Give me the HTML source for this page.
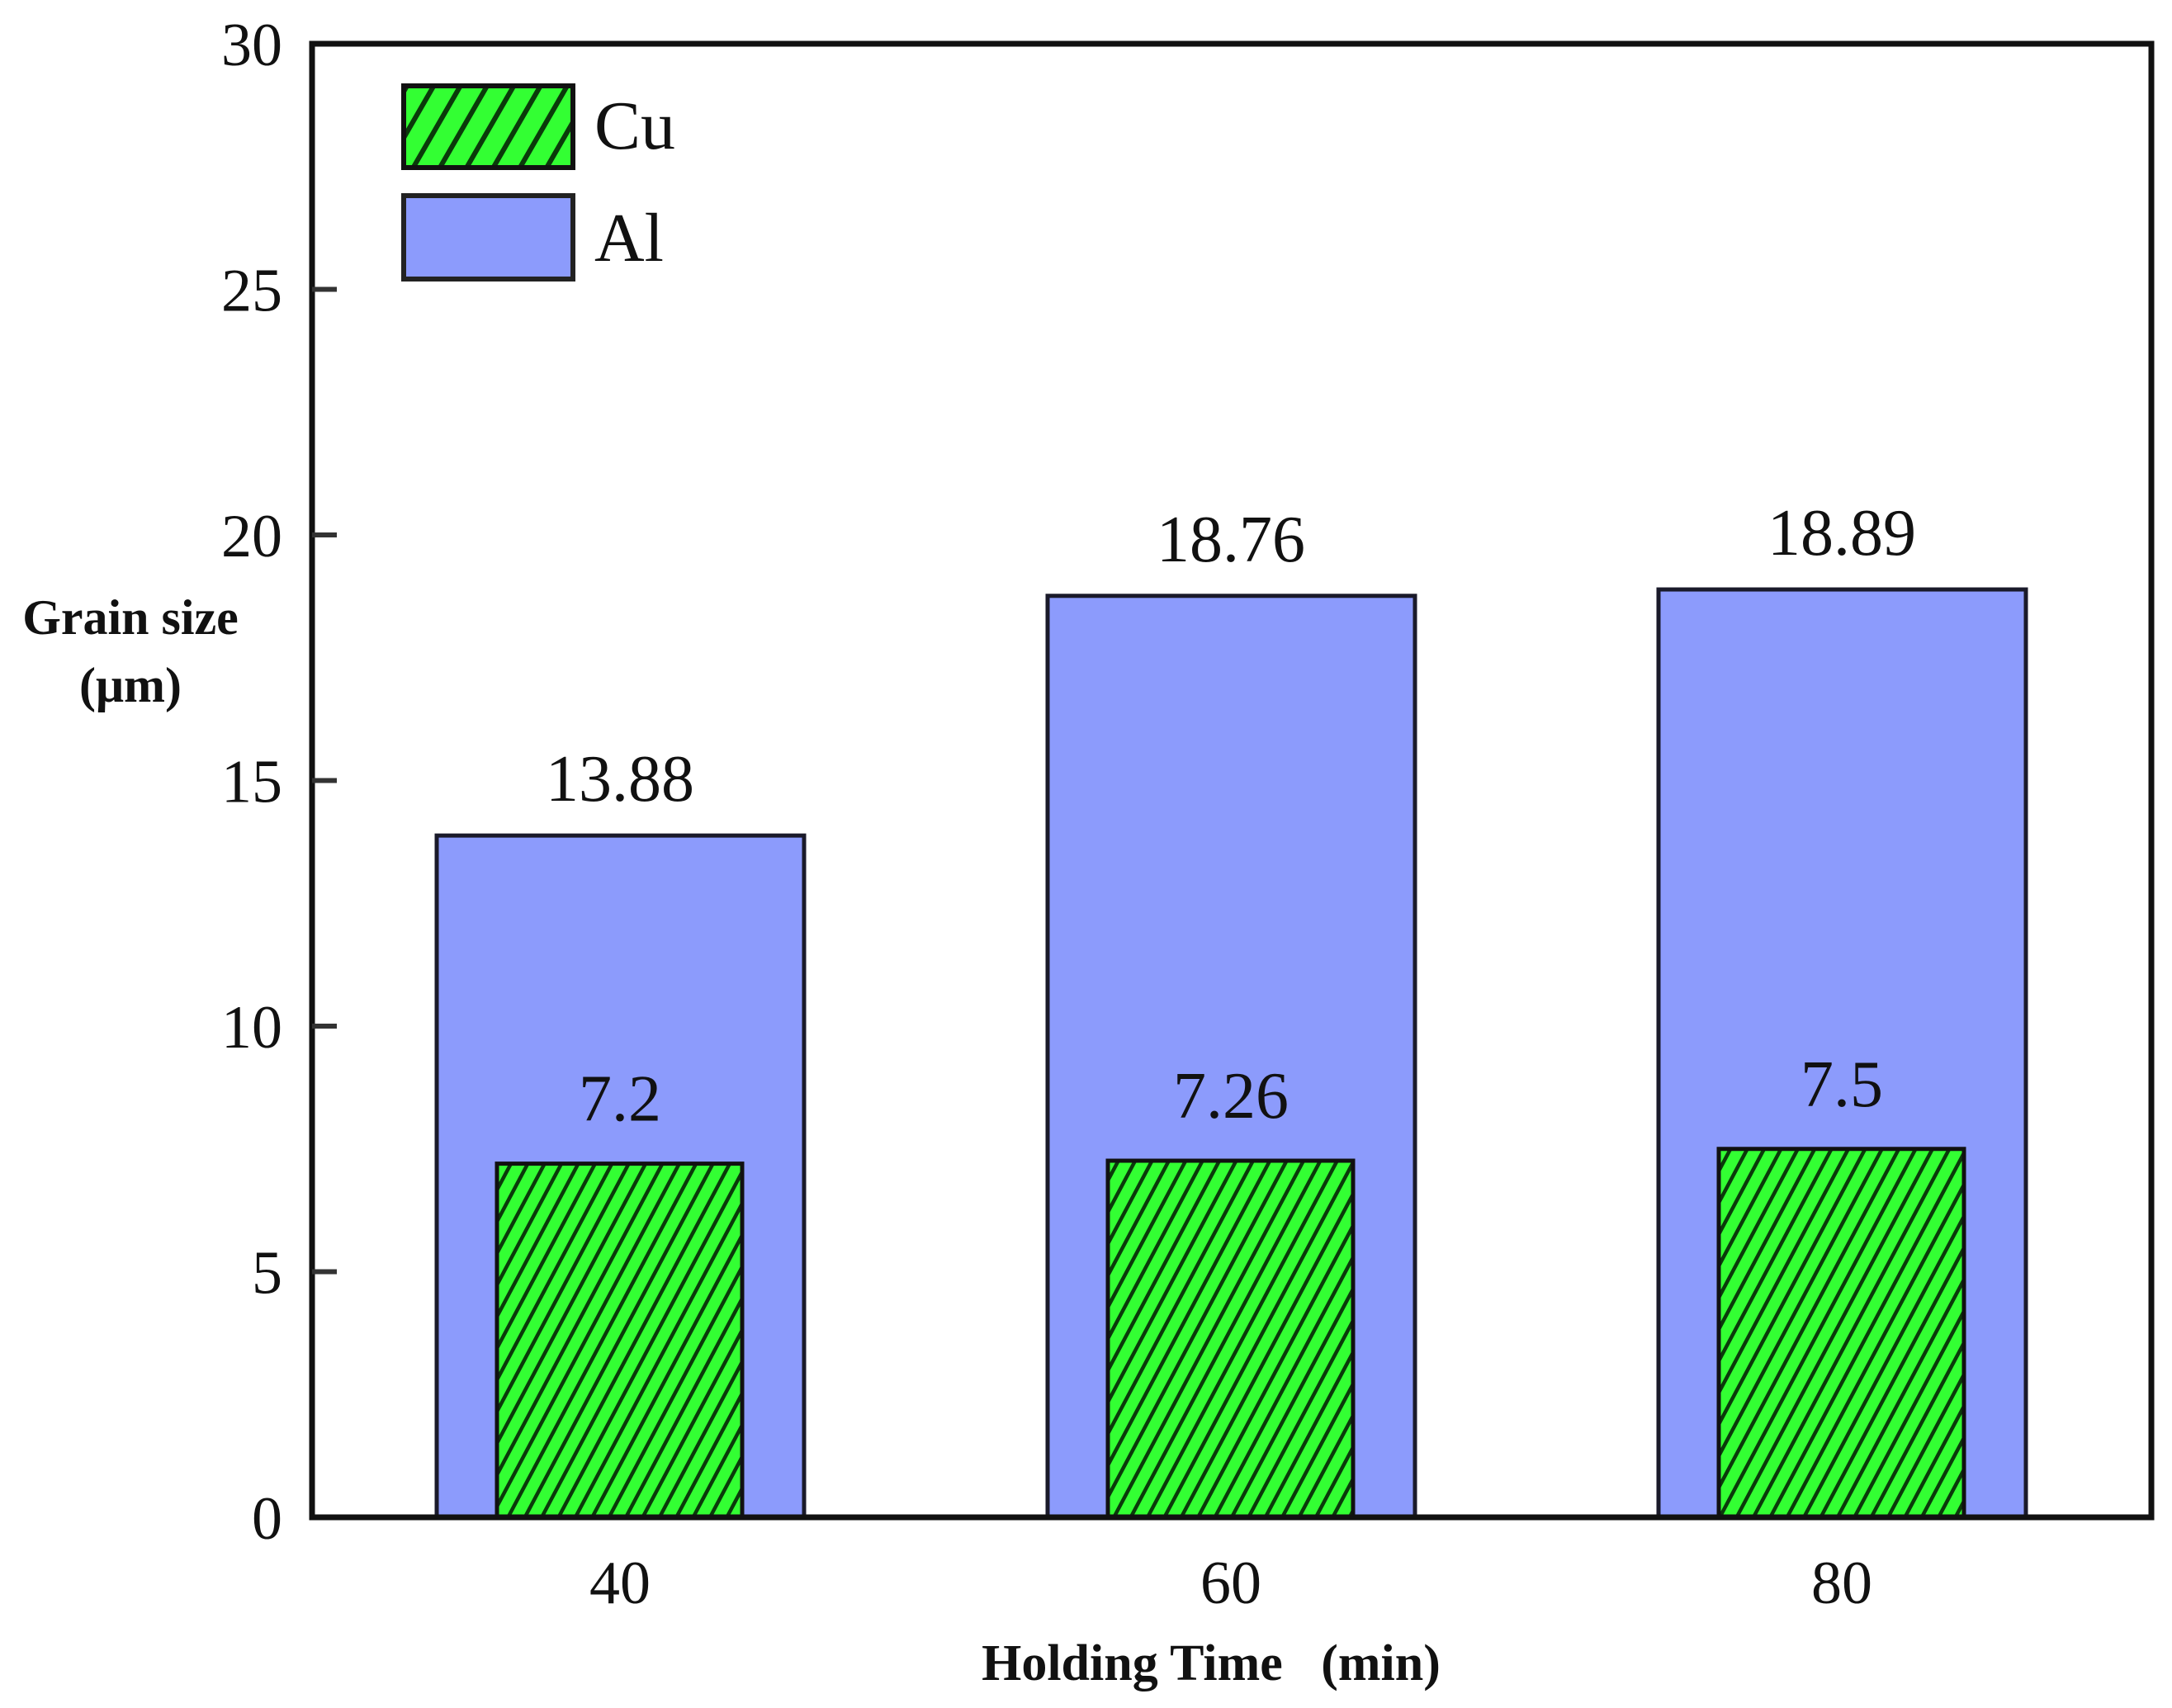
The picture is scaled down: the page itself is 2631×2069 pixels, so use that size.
<!DOCTYPE html>
<html><head><meta charset="utf-8"><style>
html,body{margin:0;padding:0;background:#fff;}
svg{display:block;font-family:"Liberation Serif",serif;}
</style></head><body>
<svg id="chart" width="2631" height="2069" viewBox="0 0 2631 2069" xmlns="http://www.w3.org/2000/svg">
<defs>
<pattern id="hatch" patternUnits="userSpaceOnUse" width="18" height="18" patternTransform="rotate(28)">
<rect width="18" height="18" fill="#33ff33"/>
<rect x="0" y="0" width="4.5" height="18" fill="#0a3a0a"/>
</pattern>
<pattern id="hatchL" patternUnits="userSpaceOnUse" width="28" height="28" patternTransform="rotate(30)">
<rect width="28" height="28" fill="#33ff33"/>
<rect x="0" y="0" width="6" height="28" fill="#0a3a0a"/>
</pattern>
</defs>
<g id="plot"></g>
</svg>
<script>
const categories = ["40","60","80"];
const alValues = [13.88,18.76,18.89];
const cuValues = [7.2,7.26,7.5];
const alLabels = ["13.88","18.76","18.89"];
const cuLabels = ["7.2","7.26","7.5"];
const yTicks = [0,5,10,15,20,25,30];

const NS="http://www.w3.org/2000/svg";
const g=document.getElementById('plot');
const L=378,R=2606,T=53,B=1838,yMax=30;
const y=v=>B-(v/yMax)*(B-T);
const x=i=>751+i*740;
function el(tag,attrs,parent){const e=document.createElementNS(NS,tag);for(const k in attrs)e.setAttribute(k,attrs[k]);(parent||g).appendChild(e);return e;}

categories.forEach((c,i)=>{
  const a=el('rect',{x:x(i)-222,y:y(alValues[i]),width:445,height:B-y(alValues[i]),fill:'#8c9bfc',stroke:'#1a1a2a','stroke-width':5});
  
  
  const u=el('rect',{x:x(i)-149,y:y(cuValues[i]),width:297,height:B-y(cuValues[i]),fill:'url(#hatch)',stroke:'#111','stroke-width':5});
  
  
  const ta=el('text',{x:x(i),y:y(alValues[i])-42,'font-size':80,'text-anchor':'middle',fill:'#111'});
  ta.textContent=alLabels[i];
  
  
  const tc=el('text',{x:x(i),y:y(cuValues[i])-52,'font-size':80,'text-anchor':'middle',fill:'#111'});
  tc.textContent=cuLabels[i];
  
  
  const tx=el('text',{x:x(i),y:1942,'font-size':74,'text-anchor':'middle',fill:'#111'});
  tx.textContent=c;
  
  
});

const fr=el('rect',{x:L,y:T,width:R-L,height:B-T,fill:'none',stroke:'#111','stroke-width':7});



yTicks.forEach(v=>{
  if(v>0&&v<30){
    const t=el('line',{x1:L,x2:L+30,y1:y(v),y2:y(v),stroke:'#333','stroke-width':6});
    
    
  }
  const tl=el('text',{x:342,y:y(v)+26,'font-size':74,'text-anchor':'end',fill:'#111'});
  tl.textContent=v;
  
  
});

const yt1=el('text',{x:158,y:768,'font-size':60,'font-weight':'bold','text-anchor':'middle',fill:'#111'});
yt1.textContent='Grain size';


const yt2=el('text',{x:158,y:850,'font-size':60,'font-weight':'bold','text-anchor':'middle',fill:'#111'});
yt2.textContent='(μm)';


const xt=el('text',{x:1467,y:2035,'font-size':62,'font-weight':'bold','text-anchor':'middle',fill:'#111'});
xt.textContent='Holding Time\u00a0\u00a0\u00a0(min)';



const lg=el('g',{});


const l1=el('rect',{x:489,y:104,width:205,height:99,fill:'url(#hatchL)',stroke:'#111','stroke-width':6},lg);


const l1t=el('text',{x:720,y:180,'font-size':84,fill:'#111'},lg);
l1t.textContent='Cu';


const l2=el('rect',{x:489,y:237,width:205,height:101,fill:'#8c9bfc',stroke:'#222','stroke-width':6},lg);


const l2t=el('text',{x:720,y:316,'font-size':84,fill:'#111'},lg);
l2t.textContent='Al';


</script>
</body></html>
